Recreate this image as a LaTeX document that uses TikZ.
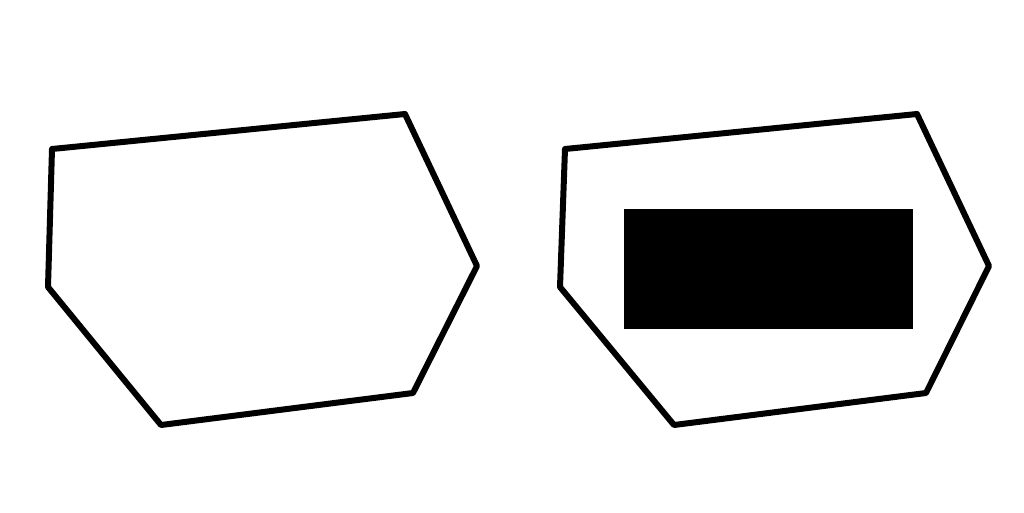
\documentclass[tikz,border=0pt]{standalone}
\begin{document}
\begin{tikzpicture}[x=1pt,y=-1pt,
  hexline/.style={draw=black,line width=6pt,line join=round},
  block/.style={fill=black}]
\useasboundingbox (0,0) rectangle (1024,512);
\fill[white] (0,0) rectangle (1024,512);
% left polygon
\draw[hexline] (52,149) -- (405,114) -- (477,266) -- (413,393) -- (161,425) -- (48,287) -- cycle;
% right polygon
\draw[hexline] (565,149) -- (917,114) -- (989,266) -- (926,393) -- (674,425) -- (560,287) -- cycle;
% black rectangle
\fill[block] (624,209) rectangle (913,329);
\end{tikzpicture}
\end{document}
